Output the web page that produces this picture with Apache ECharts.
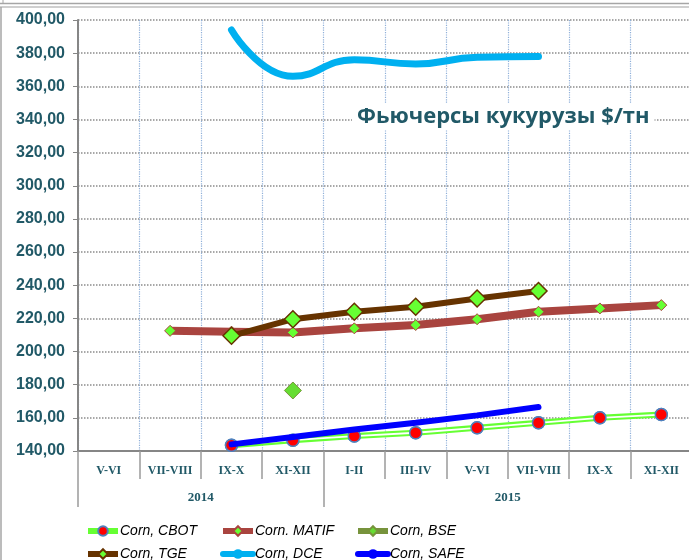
<!DOCTYPE html>
<html>
<head>
<meta charset="utf-8">
<script src="https://cdn.jsdelivr.net/npm/echarts@6/dist/echarts.min.js"></script>
<style>
  html, body { margin: 0; padding: 0; background: #fff; }
  #chart { width: 689px; height: 560px; }
</style>
</head>
<body>
<div id="chart"></div>
<script>
// периоды (двухмесячные) и годы
var periods = ['V-VI', 'VII-VIII', 'IX-X', 'XI-XII', 'I-II', 'III-IV', 'V-VI', 'VII-VIII', 'IX-X', 'XI-XII'];
var years = ['', '', '2014', '', '', '', '', '2015', '', '', ''];

// фьючерсы кукурузы, $/тн
var cbot  = [null, null, 143.5, 146.5, 149, 151, 154, 157, 160, 162];
var matif = [null, 212.5, 212, 211.5, 214, 216, 219.5, 224, 226, 228];
var bse   = [null, null, null, 176.5, null, null, null, null, null, null];
var tge   = [null, null, 209.5, 219.5, 224, 227, 232, 236.5, null, null];
var dce   = [null, null, 394, 366, 376, 373.5, 377.5, 378, null, null];
var safe  = [null, null, 144, 148.5, 153, 157, 161.5, 166.5, null, null];

var textColor = '#215967';
var chart = echarts.init(document.getElementById('chart'));

var legendText = { fontFamily: 'Liberation Sans', fontStyle: 'italic', fontSize: 14, color: '#000', padding: [0, 0, 0, -3] };
function legendCol(left, names) {
  return {
    orient: 'vertical', left: left, top: 524, height: 45, padding: 0,
    itemWidth: 30, itemHeight: 12, itemGap: 9,
    lineStyle: { width: 6 },
    textStyle: legendText,
    data: names
  };
}

var option = {
  animation: false,
  title: {
    text: 'Фьючерсы кукурузы $/тн',
    left: 352, top: 104,
    padding: [2, 5],
    backgroundColor: '#fff',
    textStyle: { fontFamily: 'Open Sans', fontWeight: 'bold', fontSize: 22, color: textColor }
  },
  legend: [
    legendCol(85, ['Corn, CBOT', 'Corn, TGE']),
    legendCol(220, ['Corn. MATIF', 'Corn, DCE']),
    legendCol(355, ['Corn, BSE', 'Corn, SAFE'])
  ],
  grid: { left: 78, right: -3, top: 20, bottom: 109, outerBoundsMode: 'none' },
  xAxis: [
    {
      type: 'category',
      data: periods,
      axisLine: { lineStyle: { color: '#868686', width: 2 } },
      axisTick: { show: true, length: 28, interval: 0, lineStyle: { color: '#9a9a9a', width: 1.5 } },
      axisLabel: { interval: 0, margin: 14, fontFamily: 'Liberation Serif', fontWeight: 'bold', fontSize: 12, color: textColor },
      splitLine: { show: true, interval: 0, lineStyle: { color: '#8fb0d9', type: 'dotted', width: 1.2 } }
    },
    {
      type: 'category',
      data: years,
      boundaryGap: false,
      position: 'bottom',
      offset: 28,
      axisLine: { show: false },
      axisTick: {
        show: true,
        length: 28,
        interval: function (i) { return i === 0 || i === 4 || i === 10; },
        lineStyle: { color: '#9a9a9a', width: 1.5 }
      },
      axisLabel: { interval: 0, margin: 12, fontFamily: 'Liberation Serif', fontWeight: 'bold', fontSize: 13, color: textColor },
      splitLine: { show: false }
    }
  ],
  yAxis: {
    type: 'value',
    min: 140, max: 400, interval: 20,
    axisLine: { show: true, lineStyle: { color: '#868686', width: 2 } },
    axisTick: { show: true, length: 5, lineStyle: { color: '#868686' } },
    axisLabel: {
      margin: 13,
      fontFamily: 'Liberation Sans', fontWeight: 'bold', fontSize: 16, color: textColor,
      formatter: function (v) { return v.toFixed(2).replace('.', ','); }
    },
    splitLine: { lineStyle: { color: '#8c8c8c', type: 'dotted', width: 1.5 } }
  },
  series: [
    {
      name: 'Corn, CBOT', type: 'line', data: cbot, z: 2,
      symbol: 'circle', symbolSize: 12,
      lineStyle: { color: '#66ff33', width: 6 },
      itemStyle: { color: '#ff0000', borderColor: '#4f81bd', borderWidth: 1.5 }
    },
    {
      name: 'cbotInner', type: 'line', data: cbot, z: 3, silent: true,
      showSymbol: false, symbol: 'none',
      lineStyle: { color: '#ffffff', width: 1.8 }
    },
    {
      name: 'cbotDots', type: 'line', data: cbot, z: 4, silent: true,
      symbol: 'circle', symbolSize: 12,
      lineStyle: { width: 0, opacity: 0 },
      itemStyle: { color: '#ff0000', borderColor: '#4f81bd', borderWidth: 1.5 }
    },
    {
      name: 'Corn. MATIF', type: 'line', data: matif, z: 5,
      symbol: 'diamond', symbolSize: 11,
      lineStyle: { color: '#a9443f', width: 8 },
      itemStyle: { color: '#66ff33', borderColor: '#a9443f', borderWidth: 1 }
    },
    {
      name: 'Corn, BSE', type: 'line', data: bse, z: 6,
      symbol: 'diamond', symbolSize: 17,
      lineStyle: { color: '#77933c', width: 7 },
      itemStyle: { color: '#66dd33', borderColor: '#77933c', borderWidth: 1 }
    },
    {
      name: 'Corn, TGE', type: 'line', data: tge, z: 7,
      symbol: 'diamond', symbolSize: 17,
      lineStyle: { color: '#663300', width: 6 },
      itemStyle: { color: '#66ff33', borderColor: '#663300', borderWidth: 1.5 }
    },
    {
      name: 'Corn, DCE', type: 'line', data: dce, z: 8,
      smooth: true, showSymbol: false, symbol: 'none',
      lineStyle: { color: '#00b0f0', width: 7, cap: 'round' },
      itemStyle: { color: '#00b0f0' }
    },
    {
      name: 'Corn, SAFE', type: 'line', data: safe, z: 8,
      showSymbol: false, symbol: 'none',
      lineStyle: { color: '#0000ff', width: 6, cap: 'round' },
      itemStyle: { color: '#0000ff' }
    }
  ],
  graphic: [
    { type: 'line', shape: { x1: 0, y1: 3.5, x2: 689, y2: 3.5 }, style: { stroke: '#a6a6a6', lineWidth: 1.5 } },
    { type: 'line', shape: { x1: 0, y1: 7, x2: 689, y2: 7 }, style: { stroke: '#bfbfbf', lineWidth: 1.5 } },
    { type: 'line', shape: { x1: 1, y1: 7, x2: 1, y2: 560 }, style: { stroke: '#a6a6a6', lineWidth: 1.5 } },
    { type: 'line', shape: { x1: 3, y1: 0, x2: 3, y2: 3.5 }, style: { stroke: '#a6a6a6', lineWidth: 1 } }
  ]
};

chart.setOption(option);
</script>
</body>
</html>
